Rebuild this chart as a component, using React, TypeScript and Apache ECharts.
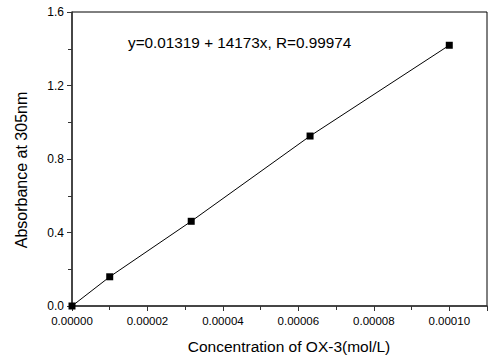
import React, { useEffect, useRef } from "react";
import * as echarts from "echarts";

const concentrations = [0, 0.00001, 0.0000316, 0.0000631, 0.0001];
const absorbances = [0, 0.159, 0.461, 0.925, 1.419];
const equationText = "y=0.01319 + 14173x, R=0.99974";
const xTitle = "Concentration of OX-3(mol/L)";
const yTitle = "Absorbance at 305nm";

export default function App() {
  const ref = useRef<HTMLDivElement>(null);
  useEffect(() => {
    if (!ref.current) return;
    const chart = echarts.init(ref.current, undefined, { renderer: "svg" });
    const font = "Liberation Sans, Arial, sans-serif";
    chart.setOption({
      animation: false,
      backgroundColor: "#ffffff",
      grid: {
        left: 72,
        right: 2,
        top: 12,
        bottom: 53,
        show: true,
        borderColor: "#000",
        borderWidth: 1,
      },
      xAxis: {
        type: "value",
        min: 0,
        max: 0.00011,
        interval: 0.00002,
        axisLine: { lineStyle: { color: "#333", width: 1.5 } },
        axisTick: { show: true, length: 5, lineStyle: { color: "#333" } },
        minorTick: { show: true, splitNumber: 2, length: 4, lineStyle: { color: "#333" } },
        splitLine: { show: false },
        axisLabel: {
          fontFamily: font,
          fontSize: 11.5,
          color: "#000",
          margin: 9,
          showMaxLabel: false,
          formatter: (v: number) => v.toFixed(5),
        },
      },
      yAxis: {
        type: "value",
        min: 0,
        max: 1.6,
        interval: 0.4,
        axisLine: { show: true, lineStyle: { color: "#333", width: 1.5 } },
        axisTick: { show: true, length: 5, lineStyle: { color: "#333" } },
        minorTick: { show: true, splitNumber: 2, length: 4, lineStyle: { color: "#333" } },
        splitLine: { show: false },
        axisLabel: {
          fontFamily: font,
          fontSize: 12,
          color: "#000",
          margin: 8,
          formatter: (v: number) => v.toFixed(1),
        },
      },
      series: [
        {
          type: "line",
          data: concentrations.map((c, i) => [c, absorbances[i]]),
          symbol: "rect",
          symbolSize: 7,
          showSymbol: true,
          lineStyle: { color: "#000", width: 1 },
          itemStyle: { color: "#000" },
          clip: false,
          z: 5,
        },
      ],
      graphic: [
        {
          type: "text",
          x: 128,
          y: 42,
          style: {
            text: equationText,
            fontFamily: font,
            fontSize: 15.3,
            fill: "#000",
            verticalAlign: "middle",
            align: "left",
          },
        },
        {
          type: "text",
          x: 289,
          y: 346,
          style: {
            text: xTitle,
            fontFamily: font,
            fontSize: 15.5,
            fill: "#000",
            verticalAlign: "middle",
            align: "center",
          },
        },
        {
          type: "text",
          x: 21,
          y: 170,
          rotation: Math.PI / 2,
          style: {
            text: yTitle,
            fontFamily: font,
            fontSize: 16,
            fill: "#000",
            verticalAlign: "middle",
            align: "center",
          },
        },
      ],
    });
    return () => chart.dispose();
  }, []);
  return (
    <div
      ref={ref}
      style={{ position: "absolute", left: 0, top: 0, width: 489, height: 359 }}
    />
  );
}
